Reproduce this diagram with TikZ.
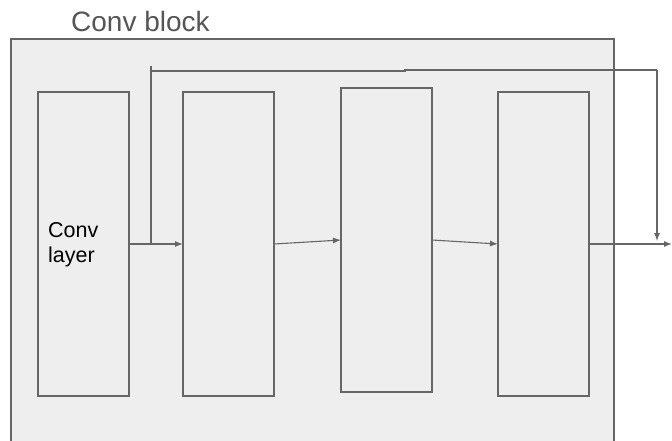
\documentclass[tikz,border=0pt]{standalone}
\usepackage{fontspec}
\setmainfont{Liberation Sans}
\usetikzlibrary{arrows.meta}
\definecolor{ln}{HTML}{666666}
\definecolor{fl}{HTML}{EEEEEE}
\definecolor{tt}{HTML}{555555}
\begin{document}
\begin{tikzpicture}[x=1pt,y=-1pt,
  blk/.style={draw=ln,line width=1.3pt,fill=fl,minimum width=91pt,minimum height=304pt,inner sep=0pt,outer sep=0pt},
  conn/.style={draw=ln,line width=1.1pt,-{Latex[length=8pt,width=6pt]}},
  skipln/.style={draw=ln,line width=1.1pt}]
\useasboundingbox (0,0) rectangle (672,440);
\clip (0,0) rectangle (672,440);
\node[draw=ln,line width=1.3pt,fill=fl,minimum width=603pt,minimum height=420pt,inner sep=0pt,outer sep=0pt,anchor=north west] (outer) at (11,39) {};
\node[anchor=base west,text=tt,font=\fontsize{28}{33}\selectfont,inner sep=0pt] (title) at (71,31) {Conv block};
\node[blk] (b1) at (83.5,244) {};
\node[blk] (b2) at (228.5,244) {};
\node[blk] (b3) at (386.5,240) {};
\node[blk] (b4) at (543.5,244) {};
\node[anchor=north west,align=left,font=\fontsize{21.5}{25.5}\selectfont,inner sep=0pt] (lbl) at (48,222) {Conv\\layer};
\coordinate (out) at (672,244);
\coordinate (s0) at (151,244);
\coordinate (s1) at (151,66);
\coordinate (s2) at (151,71);
\coordinate (s3) at (405,71);
\coordinate (s4) at (405,70);
\coordinate (s5) at (657,70);
\coordinate (s6) at (657,241);
\draw[conn] (b1.east) -- (b2.west);
\draw[conn] (b2.east) -- (b3.west);
\draw[conn] (b3.east) -- (b4.west);
\draw[conn] (b4.east) -- (out);
\draw[skipln] (s0) -- (s1);
\draw[skipln] (s2) -- (s3) -- (s4) -- (s5);
\draw[conn] (s5) -- (s6);
\end{tikzpicture}
\end{document}
